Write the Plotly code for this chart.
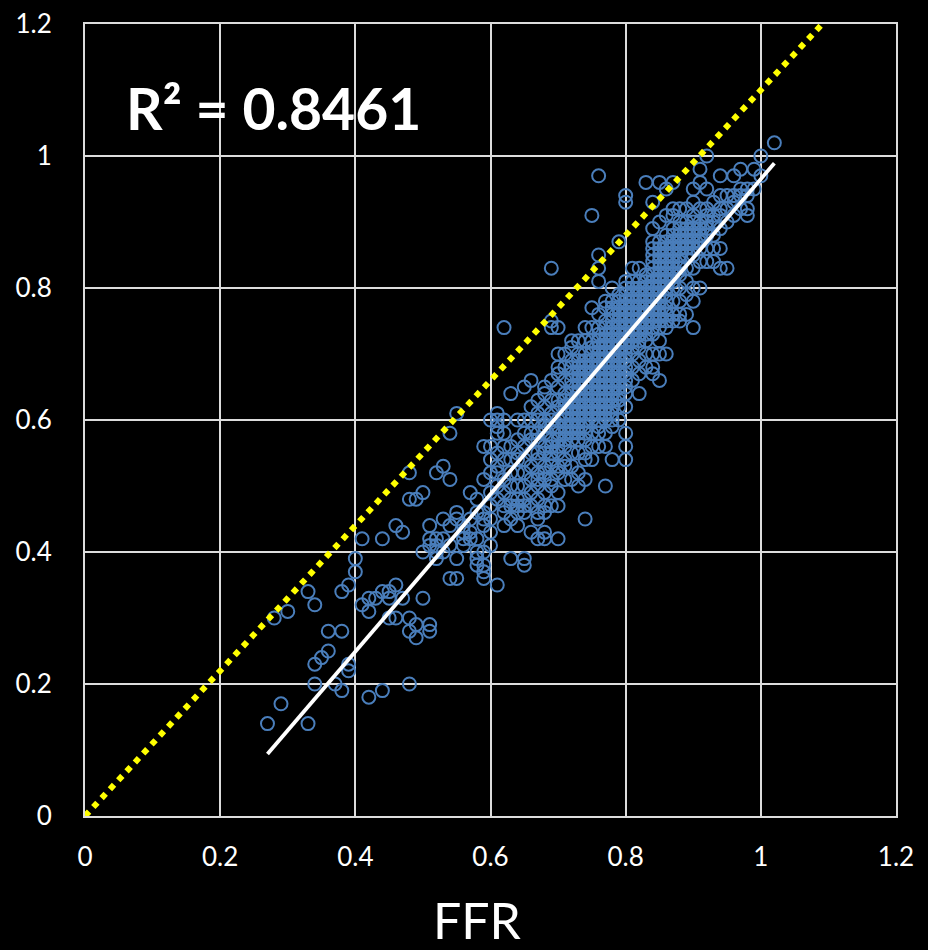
import plotly.graph_objects as go

# Reference CT-FFR values (hundredths), one list per FFR value
c27=[14];c28=[30];c29=[17];c30=[31];c33=[14,34];c34=[20,23,32];c35=[24];c36=[25,28];c37=[20]
c38=[19,28,34];c39=[22,23,35];c40=[37,39];c41=[32,42];c42=[18,31,33];c43=[33];c44=[19,34,42]
c45=[30,33,34];c46=[30,35,44];c47=[33,43];c48=[20,28,30,48,52];c49=[27,29,48];c50=[33,40,49]
c51=[28,29,41,42,44];c52=[39,40,41,42,52];c53=[40,42,45,53];c54=[36,41,44,51,58];c55=[36,39,45,46,61]
c56=[41,42,43,44];c57=[42,43,45,49];c58=[38,39,40,42,46,48]
c59=[36,37,38,40,44,45,46,51,56]
c60=[41,43,45,47,49,52,54,56,60]
c61=[35,48,50,52,53,55,58,59,60,61]
c62=[44,46,47,49,51,54,56,58,60,74]
c63=[39,45,47,48,50,52,54,56,64]
c64=[44,46,47,48,50,52,54,55,57,60]
c65=[38,39,46,47,48,50,52,54,56,58,60,65]
c66=[43,47,49,51,53,55,57,58,60,62,66]
c67=[42,45,46,48,50,51,52,54,55,57,58,60,61,63]
c68=[42,43,46,47,49,51,52,53,55,56,58,59,60,62,64,65]
c69=[47,50,51,53,54,55,56,57,59,60,61,63,66,74,75,83]
c70=[42,47,49,52,53,55,56,57,58,59,60,62,63,65,67,68,70,74]
c71=[51,53,54,56,57,58,59,60,61,62,63,64,66,68,70]
c72=[51,53,55,57,58,59,60,61,62,63,64,65,66,67,68,69,71,72]
c73=[50,52,55,57,58,59,60,61,62,63,64,65,66,67,68,69,70,72]
c74=[45,51,54,55,57,58,59,60,61,62,63,64,65,66,67,68,69,70,72,74]
c75=[54,56,58,60,61,62,63,64,65,66,67,68,69,70,71,72,74,77,91]
c76=[56,58,59,60,61,62,63,64,65,66,67,68,69,70,71,72,73,74,76,81,83,85,97]
c77=[50,56,58,60,61,62,63,64,65,66,67,68,69,70,71,72,73,74,75,77,78]
c78=[54,59,60,61,62,63,64,65,66,67,68,69,70,71,72,73,74,75,76,77,78,80]
c79=[60,62,63,64,65,66,67,68,69,70,71,72,73,74,75,76,77,78,79,87]
c80=[54,56,58,62,64,65,66,67,68,69,70,71,72,73,74,75,76,77,78,79,80,81,93,94]
c81=[66,68,70,71,72,73,74,75,76,77,78,79,80,81,83]
c82=[64,67,69,71,72,73,74,75,76,77,78,79,80,81,83]
c83=[68,70,72,73,74,75,76,77,78,79,80,81,82,96]
c84=[67,68,70,73,74,75,76,77,78,79,80,81,82,83,84,85,86,87,89,93]
c85=[66,70,72,74,75,76,77,78,79,80,81,82,83,84,85,86,87,90,96]
c86=[70,74,75,76,77,78,79,80,81,82,83,84,85,86,87,88,91,95]
c87=[75,76,78,80,81,82,83,84,85,86,87,88,89,91,92,96]
c88=[75,76,78,80,82,83,84,85,86,87,88,89,90,92]
c89=[76,79,81,83,85,86,87,88,89,90,92]
c90=[74,78,80,83,85,86,87,88,89,90,91,93,95]
c91=[80,84,86,87,88,89,90,92,96,98]
c92=[84,86,88,89,90,91,92,95,100]
c93=[84,86,88,90,91,93]
c94=[83,86,89,91,92,94,97]
c95=[83,90,92,94]
c96=[91,93,94,97]
c97=[92,94,95,98]
c98=[91,92,94,95]
c99=[95,98]
c100=[97,100]
c102=[102]

ffr_columns = [
    (0.27,c27),(0.28,c28),(0.29,c29),(0.30,c30),(0.33,c33),(0.34,c34),(0.35,c35),(0.36,c36),(0.37,c37),
    (0.38,c38),(0.39,c39),(0.40,c40),(0.41,c41),(0.42,c42),(0.43,c43),(0.44,c44),(0.45,c45),(0.46,c46),
    (0.47,c47),(0.48,c48),(0.49,c49),(0.50,c50),(0.51,c51),(0.52,c52),(0.53,c53),(0.54,c54),(0.55,c55),
    (0.56,c56),(0.57,c57),(0.58,c58),(0.59,c59),(0.60,c60),(0.61,c61),(0.62,c62),(0.63,c63),(0.64,c64),
    (0.65,c65),(0.66,c66),(0.67,c67),(0.68,c68),(0.69,c69),(0.70,c70),(0.71,c71),(0.72,c72),(0.73,c73),
    (0.74,c74),(0.75,c75),(0.76,c76),(0.77,c77),(0.78,c78),(0.79,c79),(0.80,c80),(0.81,c81),(0.82,c82),
    (0.83,c83),(0.84,c84),(0.85,c85),(0.86,c86),(0.87,c87),(0.88,c88),(0.89,c89),(0.90,c90),(0.91,c91),
    (0.92,c92),(0.93,c93),(0.94,c94),(0.95,c95),(0.96,c96),(0.97,c97),(0.98,c98),(0.99,c99),(1.00,c100),
    (1.02,c102),
]
trend_x = [0.27, 1.02]
trend_y = [0.094, 0.989]
identity_x = [0.0, 1.1]
identity_y = [0.0, 1.21]
tick_vals = [0, 0.2, 0.4, 0.6, 0.8, 1.0, 1.2]
tick_text = ["0", "0.2", "0.4", "0.6", "0.8", "1", "1.2"]

xs = [x for x, col in ffr_columns for _ in col]
ys = [v / 100 for _, col in ffr_columns for v in col]

FONT = "Lato, Carlito, Calibri, sans-serif"

fig = go.Figure()
fig.add_trace(go.Scatter(
    x=xs, y=ys, mode="markers", showlegend=False,
    marker=dict(symbol="circle-open", size=13, color="#4a7ebb", line=dict(width=2, color="#4a7ebb")),
))
fig.add_trace(go.Scatter(
    x=identity_x, y=identity_y, mode="lines", showlegend=False, cliponaxis=False,
    line=dict(color="#ffff00", width=6, dash="6px,6.2px"),
))
fig.add_trace(go.Scatter(
    x=trend_x, y=trend_y, mode="lines", showlegend=False,
    line=dict(color="#ffffff", width=3.8),
))

axis_common = dict(
    range=[0, 1.2], tickmode="array", tickvals=tick_vals, ticktext=tick_text, automargin=False,
    showgrid=True, gridcolor="#dcdcdc", gridwidth=2, zeroline=False,
    showline=True, linecolor="#dcdcdc", linewidth=2, mirror=True, ticks="",
    tickfont=dict(family=FONT, size=26, color="#ffffff"),
)
fig.update_layout(
    width=928, height=950, autosize=False,
    paper_bgcolor="#000000", plot_bgcolor="#000000",
    margin=dict(l=85, r=32, t=24, b=134),
    xaxis=dict(**axis_common, ticklabelstandoff=17),
    yaxis=dict(**axis_common, ticklabelstandoff=26),
    annotations=[
        dict(text="R² = 0.8461", xref="x", yref="y", x=0.0575, y=1.073, xanchor="left", yanchor="middle",
             showarrow=False, font=dict(family=FONT, size=57, color="#ffffff", weight="bold")),
        dict(text="FFR", xref="x", yref="paper", x=0.581, y=0, yshift=-104, xanchor="center", yanchor="middle",
             showarrow=False, font=dict(family=FONT, size=50, color="#ffffff")),
    ],
)
fig.write_html("out.html", config=dict(displayModeBar=False),
               post_script="document.body.style.margin='0';document.body.style.background='#000';")
